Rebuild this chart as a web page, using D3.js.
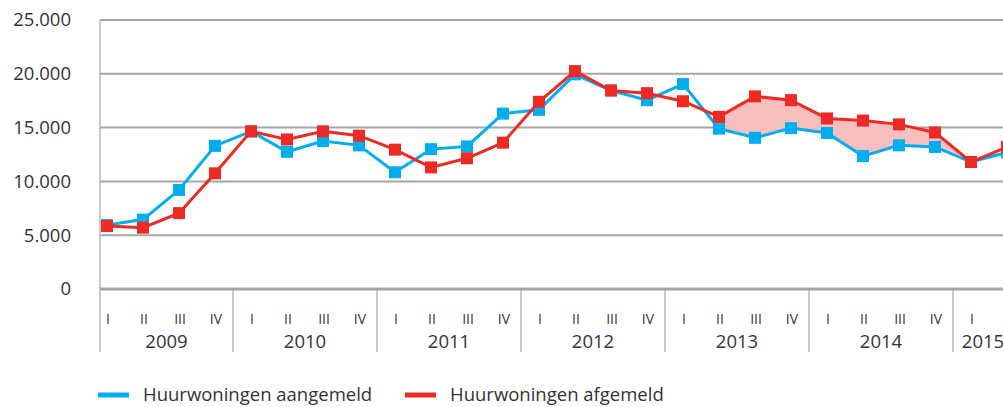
<!DOCTYPE html>
<html><head><meta charset="utf-8">
<script src="https://cdn.jsdelivr.net/npm/d3@7"></script>
<style>
html,body{margin:0;padding:0;background:#fff;}
svg{display:block;font-family:"Open Sans",sans-serif;}
</style></head>
<body><svg id="c" width="1003" height="407"></svg>
<script>
const years = ["2009","2010","2011","2012","2013","2014","2015"];
const quarters = ["I","II","III","IV"];
const aangemeld = [5950, 6450, 9200, 13300, 14650, 12750, 13750, 13350, 10850, 13000, 13250, 16300, 16650, 19950, 18450, 17550, 19050, 14900, 14050, 14950, 14500, 12350, 13350, 13200, 11800, 12700];
const afgemeld  = [5850, 5700, 7050, 10750, 14650, 13900, 14650, 14250, 12950, 11300, 12150, 13600, 17400, 20250, 18450, 18200, 17450, 16000, 17900, 17550, 15850, 15650, 15300, 14550, 11800, 13200];
const yTicks = [0, 5000, 10000, 15000, 20000, 25000];
const seriesNames = ["Huurwoningen aangemeld", "Huurwoningen afgemeld"];
const fillStart = 17, fillEnd = 24;

const blue = "#00aeef", red = "#ee2a24", pink = "#f7bfbd", grid = "#a6a6a6", txt = "#333";
const svg = d3.select("#c");
const pLeft = 100, pRight = 1013, pTop = 20, pBottom = 289;

const x = d3.scaleLinear().domain([0, 24]).range([107, 971]);
const y = d3.scaleLinear().domain([0, 25000]).range([pBottom, pTop]);

// gridlines
svg.append("g").selectAll("line").data(yTicks.filter(d => d > 0)).join("line")
  .attr("x1", pLeft).attr("x2", pRight).attr("y1", d => y(d)).attr("y2", d => y(d))
  .attr("stroke", grid).attr("stroke-width", 2);
// y labels
svg.append("g").selectAll("text").data(yTicks).join("text")
  .attr("x", 71).attr("y", d => y(d)).attr("dy", "0.35em").attr("text-anchor", "end")
  .attr("fill", txt).style("font-size", "18.5px")
  .text(d => d3.format(",")(d).replace(/,/g, "."));
// left spine
svg.append("line").attr("x1", pLeft).attr("x2", pLeft).attr("y1", pTop).attr("y2", 352)
  .attr("stroke", grid).attr("stroke-width", 1.2);

// year separators
const seps = d3.range(1, years.length).map(k => x(4 * k - 0.5));
svg.append("g").selectAll("line").data(seps).join("line")
  .attr("x1", d => d).attr("x2", d => d).attr("y1", pBottom).attr("y2", 352)
  .attr("stroke", grid).attr("stroke-width", 1.2);

// quarter labels
const idx = d3.range(aangemeld.length);
svg.append("g").selectAll("text").data(idx).join("text")
  .attr("x", i => x(i) + 1).attr("y", 319).attr("dy", "0.35em").attr("text-anchor", "middle")
  .attr("fill", txt).style("font-size", "14px")
  .text(i => quarters[i % 4]);
// year labels
svg.append("g").selectAll("text").data(years).join("text")
  .attr("x", (d, k) => {
    const a = Math.max(pLeft, x(4 * k - 0.5)), b = Math.min(pRight, x(4 * k + 3.5));
    return (a + b) / 2;
  })
  .attr("y", 342).attr("dy", "0.35em").attr("text-anchor", "middle")
  .attr("fill", txt).style("font-size", "18.5px").text(d => d);

// shaded area
const fillIdx = d3.range(fillStart, fillEnd + 1);
svg.append("path").datum(fillIdx)
  .attr("d", d3.area().x(i => x(i)).y0(i => y(aangemeld[i])).y1(i => y(afgemeld[i])))
  .attr("fill", pink);

// baseline
svg.append("line").attr("x1", pLeft).attr("x2", pRight).attr("y1", y(0)).attr("y2", y(0))
  .attr("stroke", grid).attr("stroke-width", 3);

const line = arr => d3.line().x(i => x(i)).y(i => y(arr[i]))(idx);
[[aangemeld, blue], [afgemeld, red]].forEach(([arr, col]) => {
  svg.append("path").attr("d", line(arr)).attr("fill", "none")
    .attr("stroke", col).attr("stroke-width", 3);
  svg.append("g").selectAll("rect").data(idx).join("rect")
    .attr("x", i => x(i) - 6).attr("y", i => y(arr[i]) - 6)
    .attr("width", 12).attr("height", 12).attr("fill", col);
});

// legend
const leg = [[blue, 98, 143], [red, 405, 450]];
leg.forEach(([col, lx, tx], k) => {
  svg.append("line").attr("x1", lx).attr("x2", lx + 31).attr("y1", 395).attr("y2", 395)
    .attr("stroke", col).attr("stroke-width", 5);
  svg.append("text").attr("x", tx).attr("y", 395).attr("dy", "0.35em")
    .attr("fill", txt).style("font-size", "18.5px").text(seriesNames[k]);
});
</script></body></html>
